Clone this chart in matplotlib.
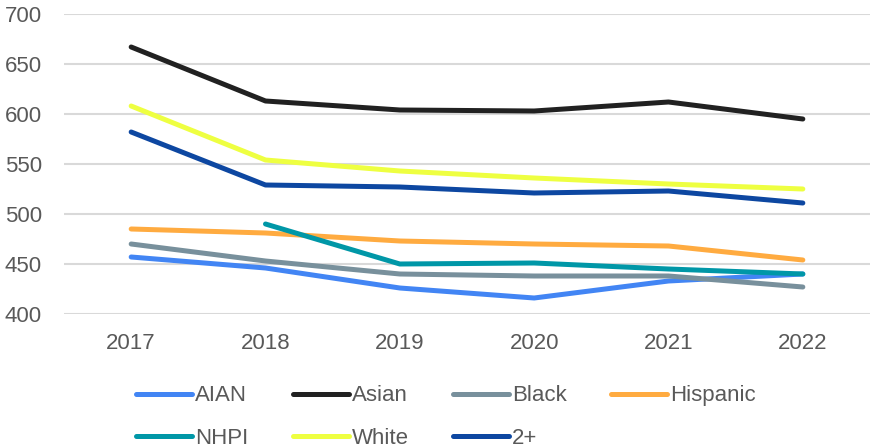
import matplotlib
matplotlib.use("Agg")
import matplotlib.pyplot as plt

years = ["2017", "2018", "2019", "2020", "2021", "2022"]

aian = [457, 446, 426, 416, 433, 440]
asian = [667, 613, 604, 603, 612, 595]
black = [470, 453, 440, 438, 438, 427]
hispanic = [485, 481, 473, 470, 468, 454]
nhpi = [None, 490, 450, 451, 445, 440]
white = [608, 554, 543, 536, 530, 525]
two_plus = [582, 529, 527, 521, 523, 511]

series = [
    ("AIAN", aian, "#4285F4"),
    ("Asian", asian, "#212121"),
    ("Black", black, "#78909C"),
    ("Hispanic", hispanic, "#FFAB40"),
    ("NHPI", nhpi, "#0097A7"),
    ("White", white, "#EEFF41"),
    ("2+", two_plus, "#0D47A1"),
]

plt.rcParams["font.family"] = ["Liberation Sans", "DejaVu Sans"]
text_color = "#595959"

fig = plt.figure(figsize=(8.72, 4.48), dpi=100)
ax = fig.add_axes([64 / 872, 1 - 314 / 448, 806 / 872, 300 / 448])

x = list(range(len(years)))
lines = {}
for name, vals, color in series:
    xs = [i for i, v in zip(x, vals) if v is not None]
    ys = [v for v in vals if v is not None]
    (ln,) = ax.plot(xs, ys, color=color, lw=3.6, label=name,
                    solid_capstyle="round", solid_joinstyle="round")
    lines[name] = ln

ax.set_xlim(-0.5, len(years) - 0.5)
ax.set_ylim(400, 700)
ax.set_yticks(range(400, 701, 50))
ax.set_xticks(x)
ax.set_xticklabels(years)

ax.grid(axis="y", color="#d9d9d9", lw=1.5)
ax.set_axisbelow(True)
for s in ax.spines.values():
    s.set_visible(False)
ax.tick_params(axis="both", length=0, labelsize=16, labelcolor=text_color)
ax.tick_params(axis="y", pad=16)
ax.tick_params(axis="x", pad=14)

# legend fills column by column, so order entries to read row by row
order = ["AIAN", "NHPI", "Asian", "White", "Black", "2+", "Hispanic"]
leg = fig.legend(
    [lines[n] for n in order], order,
    loc="upper left", bbox_to_anchor=(132 / 872, 1 - 381 / 448),
    ncol=4, frameon=False, fontsize=16, labelcolor=text_color,
    handlelength=2.5, handletextpad=0.15, columnspacing=2.0,
    labelspacing=0.95, borderpad=0.2, borderaxespad=0,
)

fig.savefig("out.png", dpi=100)
